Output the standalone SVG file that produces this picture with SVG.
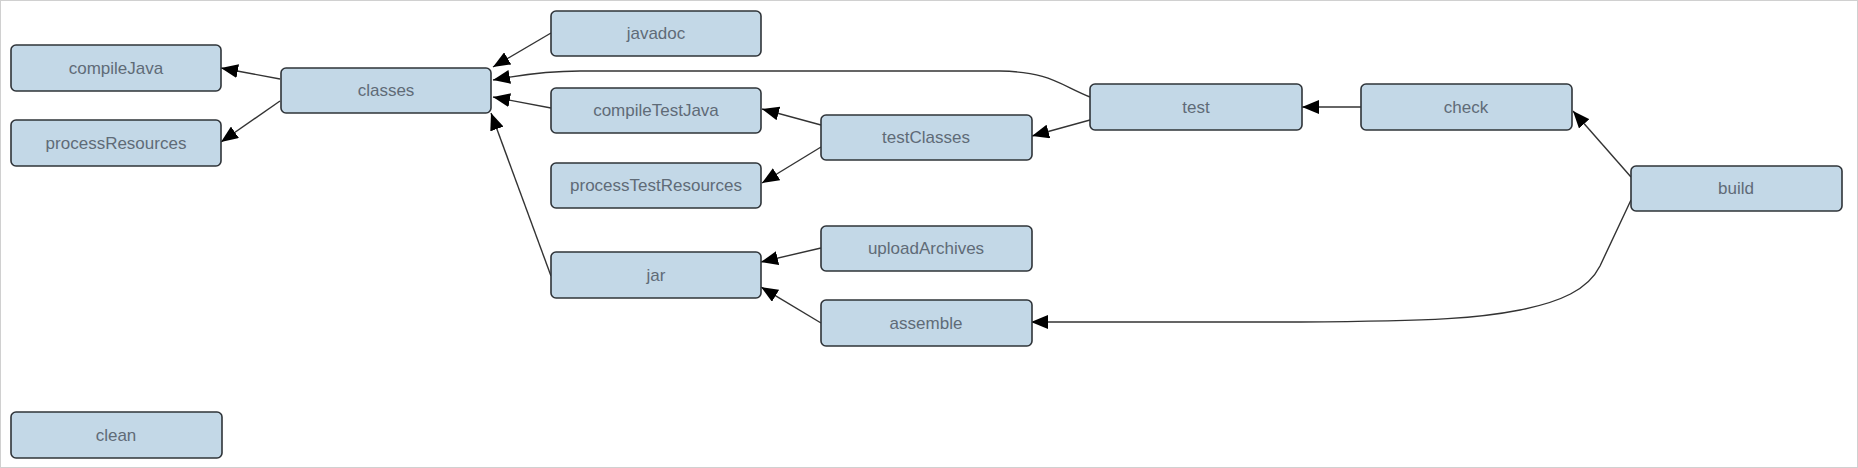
<svg xmlns="http://www.w3.org/2000/svg" width="1858" height="468" viewBox="0 0 1858 468">
<style>
.n rect{fill:#c3d8e7;stroke:#2f3439;stroke-width:1.6}
.n text{font-family:"Liberation Sans",Arial,sans-serif;font-size:17px;fill:#5f6b77;text-anchor:middle}
.e path{fill:none;stroke:#333;stroke-width:1.4;marker-end:url(#ah)}
</style>
<defs>
<marker id="ah" markerWidth="18" markerHeight="14" refX="17" refY="7" orient="auto" markerUnits="userSpaceOnUse">
<path d="M0,0 L17,7 L0,14 Z" fill="#000"/>
</marker>
</defs>
<rect x="0.5" y="0.5" width="1857" height="467" fill="#fff" stroke="#d0d0d0"/>
<g class="e" id="connectors">
<path d="M280,79 L221,68"/>
<path d="M280,101 L221,142"/>
<path d="M551,33 L493,67"/>
<path d="M1090,97 C1060,85 1050,72 1000,71 L580,71 C550,71 520,75 493,80"/>
<path d="M551,108 L493,97"/>
<path d="M551,276 L491,113"/>
<path d="M821,125 L762,109"/>
<path d="M821,147 L762,183"/>
<path d="M1090,120 L1032,136"/>
<path d="M1361,107 L1302,107"/>
<path d="M1631,177 L1573,111"/>
<path d="M821,248 L761,262"/>
<path d="M821,323 L761,287"/>
<path d="M1631,200 L1600,266 C1588,290 1560,302 1520,310 C1480,318 1440,321 1300,322 L1031,322"/>
</g>
<g class="n" id="compileJava"><rect x="11" y="45" width="210" height="46" rx="5"/><text x="116" y="74">compileJava</text></g>
<g class="n" id="processResources"><rect x="11" y="120" width="210" height="46" rx="5"/><text x="116" y="149">processResources</text></g>
<g class="n" id="classes"><rect x="281" y="68" width="210" height="45" rx="5"/><text x="386" y="96">classes</text></g>
<g class="n" id="javadoc"><rect x="551" y="11" width="210" height="45" rx="5"/><text x="656" y="39">javadoc</text></g>
<g class="n" id="compileTestJava"><rect x="551" y="88" width="210" height="45" rx="5"/><text x="656" y="116">compileTestJava</text></g>
<g class="n" id="processTestResources"><rect x="551" y="163" width="210" height="45" rx="5"/><text x="656" y="191">processTestResources</text></g>
<g class="n" id="jar"><rect x="551" y="252" width="210" height="46" rx="5"/><text x="656" y="281">jar</text></g>
<g class="n" id="testClasses"><rect x="821" y="115" width="211" height="45" rx="5"/><text x="926" y="143">testClasses</text></g>
<g class="n" id="uploadArchives"><rect x="821" y="226" width="211" height="45" rx="5"/><text x="926" y="254">uploadArchives</text></g>
<g class="n" id="assemble"><rect x="821" y="300" width="211" height="46" rx="5"/><text x="926" y="329">assemble</text></g>
<g class="n" id="test"><rect x="1090" y="84" width="212" height="46" rx="5"/><text x="1196" y="113">test</text></g>
<g class="n" id="check"><rect x="1361" y="84" width="211" height="46" rx="5"/><text x="1466" y="113">check</text></g>
<g class="n" id="build"><rect x="1631" y="166" width="211" height="45" rx="5"/><text x="1736" y="194">build</text></g>
<g class="n" id="clean"><rect x="11" y="412" width="211" height="46" rx="5"/><text x="116" y="441">clean</text></g>
</svg>
